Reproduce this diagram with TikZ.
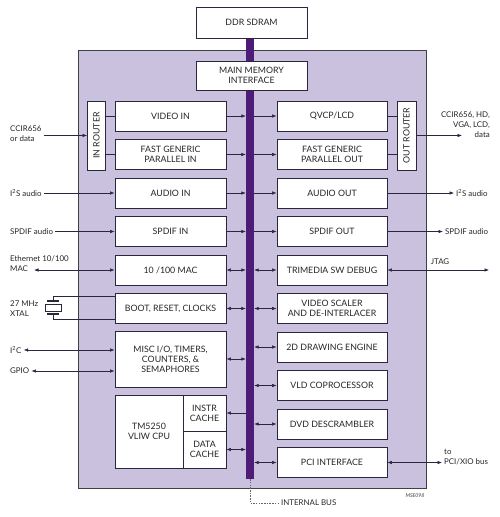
\documentclass[tikz,border=0pt]{standalone}
\usepackage{fontspec}
\setmainfont{Lato}
\usetikzlibrary{arrows.meta}
\definecolor{chipfill}{RGB}{202,193,222}
\definecolor{busclr}{RGB}{78,28,118}
\definecolor{inkclr}{RGB}{42,38,62}
\begin{document}
\begin{tikzpicture}[x=1pt,y=-1pt,font=\fontsize{8.8}{10.2}\selectfont,
  blk/.style={draw=inkclr,fill=white,line width=0.8pt,minimum width=111pt,minimum height=30pt,align=center,inner sep=1pt,text=black!85},
  rtr/.style={blk,rotate=90,minimum width=69pt,minimum height=18pt},
  lbl/.style={font=\fontsize{7.9}{10}\selectfont,align=left,inner sep=2pt,text=black!85},
  wire/.style={draw=inkclr,line width=0.6pt},
  sig/.style={wire,-{Latex[length=4.5pt,width=3.5pt]}},
  bid/.style={wire,{Latex[length=4.5pt,width=3.5pt]}-{Latex[length=4.5pt,width=3.5pt]}}]
\useasboundingbox (0,0) rectangle (500,517);
% chip outline and internal bus
\draw[draw=black!75,fill=chipfill,line width=1pt] (78,50) rectangle (426,488);
\node[fill=busclr,minimum width=8pt,minimum height=441pt,inner sep=0pt] (bus) at (250,258.5) {};
\node[blk,minimum height=31pt] (ddr) at (251.5,22.5) {DDR SDRAM};
\node[blk,minimum height=29pt] (mmi) at (251.5,75.5) {MAIN MEMORY\\INTERFACE};
% left column
\node[rtr] (inr) at (96.5,135.5) {IN ROUTER};
\node[blk] (vin) at (170.5,116) {VIDEO IN};
\node[blk] (fgpin) at (170.5,154.5) {FAST GENERIC\\PARALLEL IN};
\node[blk] (ain) at (170.5,193) {AUDIO IN};
\node[blk] (spin) at (170.5,231.5) {SPDIF IN};
\node[blk] (mac) at (170.5,270) {10 /100 MAC};
\node[blk] (boot) at (170.5,308.5) {BOOT, RESET, CLOCKS};
\node[blk,minimum height=56pt] (misc) at (170.5,359) {MISC I/O, TIMERS,\\COUNTERS, \&\\SEMAPHORES};
\node[blk,minimum width=68pt,minimum height=73pt] (cpu) at (149,431.5) {TM5250\\VLIW CPU};
\node[blk,minimum width=43pt,minimum height=36pt] (icache) at (204.5,413) {INSTR\\CACHE};
\node[blk,minimum width=43pt,minimum height=37pt] (dcache) at (204.5,449.5) {DATA\\CACHE};
% right column
\node[blk,minimum width=110pt] (qvcp) at (332,116) {QVCP/LCD};
\node[blk,minimum width=110pt] (fgpout) at (332,154.5) {FAST GENERIC\\PARALLEL OUT};
\node[blk,minimum width=110pt] (aout) at (332,193) {AUDIO OUT};
\node[blk,minimum width=110pt] (spout) at (332,231.5) {SPDIF OUT};
\node[blk,minimum width=110pt] (trim) at (332,270) {TRIMEDIA SW DEBUG};
\node[blk,minimum width=110pt] (vscal) at (332,308.5) {VIDEO SCALER\\AND DE-INTERLACER};
\node[blk,minimum width=110pt] (draw2d) at (332,347) {2D DRAWING ENGINE};
\node[blk,minimum width=110pt] (vld) at (332,385.5) {VLD COPROCESSOR};
\node[blk,minimum width=110pt] (dvd) at (332,424) {DVD DESCRAMBLER};
\node[blk,minimum width=110pt] (pci) at (332,462.5) {PCI INTERFACE};
\node[rtr,minimum height=19pt] (outr) at (406.5,135.5) {OUT ROUTER};
% bus connections
\draw[sig] (vin.east) -- (vin.east -| bus.west);
\draw[sig] (fgpin.east) -- (fgpin.east -| bus.west);
\draw[sig] (ain.east) -- (ain.east -| bus.west);
\draw[sig] (spin.east) -- (spin.east -| bus.west);
\draw[bid] (mac.east) -- (mac.east -| bus.west);
\draw[bid] (boot.east) -- (boot.east -| bus.west);
\draw[bid] (misc.east) -- (misc.east -| bus.west);
\draw[sig] (icache.east -| bus.west) -- (icache.east);
\draw[bid] (dcache.east) -- (dcache.east -| bus.west);
\draw[sig] (qvcp.west -| bus.east) -- (qvcp.west);
\draw[sig] (fgpout.west -| bus.east) -- (fgpout.west);
\draw[sig] (aout.west -| bus.east) -- (aout.west);
\draw[sig] (spout.west -| bus.east) -- (spout.west);
\draw[bid] (trim.west -| bus.east) -- (trim.west);
\draw[bid] (vscal.west -| bus.east) -- (vscal.west);
\draw[bid] (draw2d.west -| bus.east) -- (draw2d.west);
\draw[bid] (vld.west -| bus.east) -- (vld.west);
\draw[bid] (dvd.west -| bus.east) -- (dvd.west);
\draw[bid] (pci.west -| bus.east) -- (pci.west);
% routers
\draw[wire] (inr.south |- vin.west) -- (vin.west);
\draw[wire] (inr.south |- fgpin.west) -- (fgpin.west);
\draw[wire] (qvcp.east) -- (qvcp.east -| outr.north);
\draw[wire] (fgpout.east) -- (fgpout.east -| outr.north);
% outside signals, left
\node[lbl,anchor=west] (cin) at (8,134) {CCIR656\\or data};
\draw[sig] (cin.east |- inr.center) -- (inr.center -| inr.north);
\node[lbl,anchor=west] (i2sin) at (8,193) {I\textsuperscript{2}S audio};
\draw[sig] (i2sin.east) -- (ain.west);
\node[lbl,anchor=west] (spdin) at (8,231.5) {SPDIF audio};
\draw[sig] (spdin.east) -- (spin.west);
\node[lbl,anchor=west] (eth) at (8,264) {Ethernet 10/100\\MAC};
\coordinate (ethend) at (34,270);
\draw[bid] (ethend) -- (mac.west);
\node[lbl,anchor=west] (xtal) at (8,309) {27 MHz\\XTAL};
\draw[wire] (53,301) -- (53,296) -- (115,296);
\draw[wire] (53,314) -- (53,319) -- (115,319);
\draw[wire,line width=1.4pt] (47,301) -- (59,301) (47,314) -- (59,314);
\draw[wire,fill=white] (45,304) rectangle (61,311);
\node[lbl,anchor=west] (i2c) at (8,350) {I\textsuperscript{2}C};
\draw[bid] (i2c.east) -- (i2c.east -| misc.west);
\node[lbl,anchor=west] (gpio) at (8,371) {GPIO};
\draw[bid] (gpio.east) -- (gpio.east -| misc.west);
% outside signals, right
\node[lbl,anchor=east,align=right] (vout) at (492,125) {CCIR656, HD,\\VGA, LCD,\\data};
\coordinate (voutend) at (462,135.5);
\draw[sig] (outr.center -| outr.south) -- (voutend);
\node[lbl,anchor=west] (i2sout) at (454,193) {I\textsuperscript{2}S audio};
\draw[sig] (aout.east) -- (i2sout.west);
\node[lbl,anchor=west] (spdout) at (443,231.5) {SPDIF audio};
\draw[sig] (spout.east) -- (spdout.west);
\node[lbl] (jtag) at (440,262) {JTAG};
\coordinate (jtagend) at (489,270);
\draw[bid] (trim.east) -- (jtagend);
\node[lbl,anchor=west] (pcibus) at (442,457) {to\\PCI/XIO bus};
\coordinate (pciend) at (442,462.5);
\draw[bid] (pci.east) -- (pciend);
% internal bus tag
\node[lbl,anchor=west] (ibus) at (279,503) {INTERNAL BUS};
\draw[draw=black!60,line width=0.6pt,dash pattern=on 1.5pt off 1.2pt] (bus.south) |- (ibus.west);
\node[font=\fontsize{5.2}{6}\selectfont\itshape,text=black!75] (tag) at (415,496) {MSE098};
\end{tikzpicture}
\end{document}
